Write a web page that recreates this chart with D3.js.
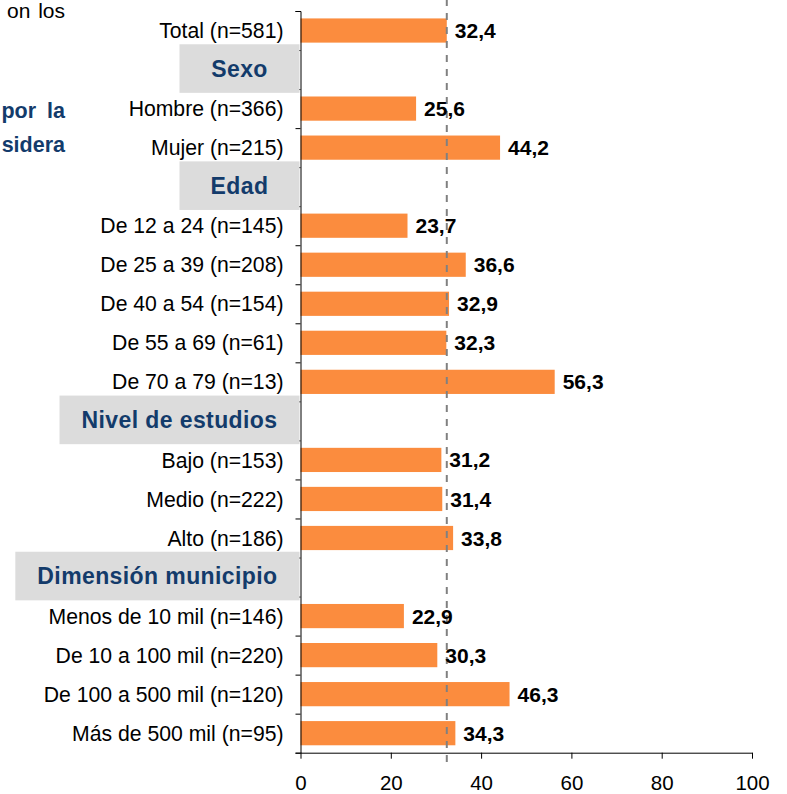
<!DOCTYPE html>
<html>
<head>
<meta charset="utf-8">
<script src="https://cdn.jsdelivr.net/npm/d3@7"></script>
<style>
  body { margin: 0; background: #fff; }
  #chart { width: 787px; height: 794px; }
  text { font-family: "Liberation Sans", Arial, sans-serif; }
</style>
</head>
<body>
<div id="chart"></div>
<script>
// rows of the chart, top to bottom (null value = section header)
const labels = [
    "Total (n=581)",
    "Sexo",
    "Hombre (n=366)",
    "Mujer (n=215)",
    "Edad",
    "De 12 a 24 (n=145)",
    "De 25 a 39 (n=208)",
    "De 40 a 54 (n=154)",
    "De 55 a 69 (n=61)",
    "De 70 a 79 (n=13)",
    "Nivel de estudios",
    "Bajo (n=153)",
    "Medio (n=222)",
    "Alto (n=186)",
    "Dimensión municipio",
    "Menos de 10 mil (n=146)",
    "De 10 a 100 mil (n=220)",
    "De 100 a 500 mil (n=120)",
    "Más de 500 mil (n=95)"
];
const values = [32.4, null, 25.6, 44.2, null, 23.7, 36.6, 32.9, 32.3, 56.3,
    null, 31.2, 31.4, 33.8, null, 22.9, 30.3, 46.3, 34.3];
const headers = ["Sexo", "Edad", "Nivel de estudios", "Dimensión municipio"];
const referenceValue = 32.4;
const xTicks = [0, 20, 40, 60, 80, 100];

// clipped text fragments from the surrounding page
const sideText = [
    { text: "on los", bold: false },
    { text: "por la", bold: true },
    { text: "sidera", bold: true }
];

function renderChart(containerSelector) {
    const container = d3.select(containerSelector);
    const width = 787, height = 794;

    const margin = { top: 11, right: 35, bottom: 41.3, left: 300.5 };

    const svg = container.append("svg")
        .attr("width", width)
        .attr("height", height);

    const rows = labels.map((l, i) => ({ label: l, value: values[i], idx: i }));

    const x = d3.scaleLinear()
        .domain([0, 100])
        .range([margin.left, width - margin.right]);

    const y = d3.scaleBand()
        .domain(rows.map(d => d.idx))
        .range([margin.top, height - margin.bottom])
        .paddingInner(0.38)
        .paddingOuter(0.19);

    const yEdge = d3.scaleLinear()
        .domain([0, rows.length])
        .range([margin.top, height - margin.bottom]);

    const fmt = v => d3.format(".1f")(v).replace(".", ",");
    const bandMid = i => yEdge(i + 0.5);

    // bars
    const barRows = rows.filter(d => d.value !== null);
    svg.selectAll("rect.bar")
        .data(barRows)
        .join("rect")
        .attr("class", "bar")
        .attr("x", x(0))
        .attr("y", d => y(d.idx))
        .attr("height", y.bandwidth())
        .attr("width", d => x(d.value) - x(0))
        .attr("fill", "#FB8C3E");

    // category labels
    svg.selectAll("text.cat")
        .data(barRows)
        .join("text")
        .attr("class", "cat")
        .attr("x", x(0) - 17)
        .attr("y", d => bandMid(d.idx))
        .attr("dy", "0.36em")
        .attr("text-anchor", "end")
        .attr("font-size", 21.2)
        .attr("fill", "#000")
        .text(d => d.label);

    // y axis with ticks at band edges
    svg.append("g")
        .attr("class", "axis")
        .attr("transform", `translate(${x(0)},0)`)
        .call(d3.axisLeft(yEdge).tickValues(d3.range(rows.length + 1)).tickSize(5).tickFormat(""))
        .call(g => g.select(".domain").attr("stroke", "#000"));

    // section header boxes
    const headerRows = rows.filter(d => d.value === null && headers.includes(d.label));
    const hg = svg.selectAll("g.header")
        .data(headerRows)
        .join("g")
        .attr("class", "header");

    hg.append("text")
        .attr("font-size", 23)
        .attr("font-weight", "bold")
        .attr("letter-spacing", 0.4)
        .attr("fill", "#133B6B")
        .attr("text-anchor", "middle")
        .attr("dy", "0.36em")
        .text(d => d.label);

    hg.each(function (d) {
        const g = d3.select(this);
        const t = g.select("text");
        const tw = t.node().getComputedTextLength();
        const bw = Math.max(120, tw + 44);
        const right = x(0) - 1;
        const cy = bandMid(d.idx) - 1;
        g.insert("rect", "text")
            .attr("x", right - bw)
            .attr("y", cy - 24.3)
            .attr("width", bw)
            .attr("height", 48.6)
            .attr("fill", "#DCDCDC");
        t.attr("x", right - bw / 2).attr("y", cy);
    });

    // x axis
    const xAxis = svg.append("g")
        .attr("class", "axis")
        .attr("transform", `translate(0,${height - margin.bottom})`)
        .call(d3.axisBottom(x).tickValues(xTicks).tickSize(6).tickSizeOuter(0).tickFormat(d3.format("d")));
    xAxis.select(".domain").attr("stroke", "#000");
    xAxis.selectAll(".tick line").attr("stroke", "#000");
    xAxis.selectAll("text")
        .attr("font-size", 20.5)
        .attr("font-family", "'Liberation Sans', Arial, sans-serif")
        .attr("fill", "#000")
        .attr("dy", "0")
        .attr("y", 37.8);

    // reference line (total)
    svg.append("line")
        .attr("x1", x(referenceValue))
        .attr("x2", x(referenceValue))
        .attr("y1", 0)
        .attr("y2", height - margin.bottom + 15.5)
        .attr("stroke", "#808080")
        .attr("stroke-width", 2)
        .attr("stroke-dasharray", "7,7")
        .attr("stroke-dashoffset", 1);

    // value labels
    svg.selectAll("text.val")
        .data(barRows)
        .join("text")
        .attr("class", "val")
        .attr("x", d => x(d.value) + 8)
        .attr("y", d => bandMid(d.idx))
        .attr("dy", "0.36em")
        .attr("font-size", 21)
        .attr("font-weight", "bold")
        .attr("fill", "#000")
        .text(d => fmt(d.value));

    // clipped side text
    const sideY = [17.5, 117.5, 151.5];
    svg.selectAll("text.side")
        .data(sideText)
        .join("text")
        .attr("class", "side")
        .attr("x", 65)
        .attr("y", (d, i) => sideY[i])
        .attr("text-anchor", "end")
        .attr("font-size", d => d.bold ? 21.5 : 21)
        .attr("font-weight", d => d.bold ? "bold" : "normal")
        .attr("word-spacing", d => d.bold ? 5 : 2)
        .attr("fill", d => d.bold ? "#133B6B" : "#000")
        .text(d => d.text);
}

renderChart("#chart");
</script>
</body>
</html>
